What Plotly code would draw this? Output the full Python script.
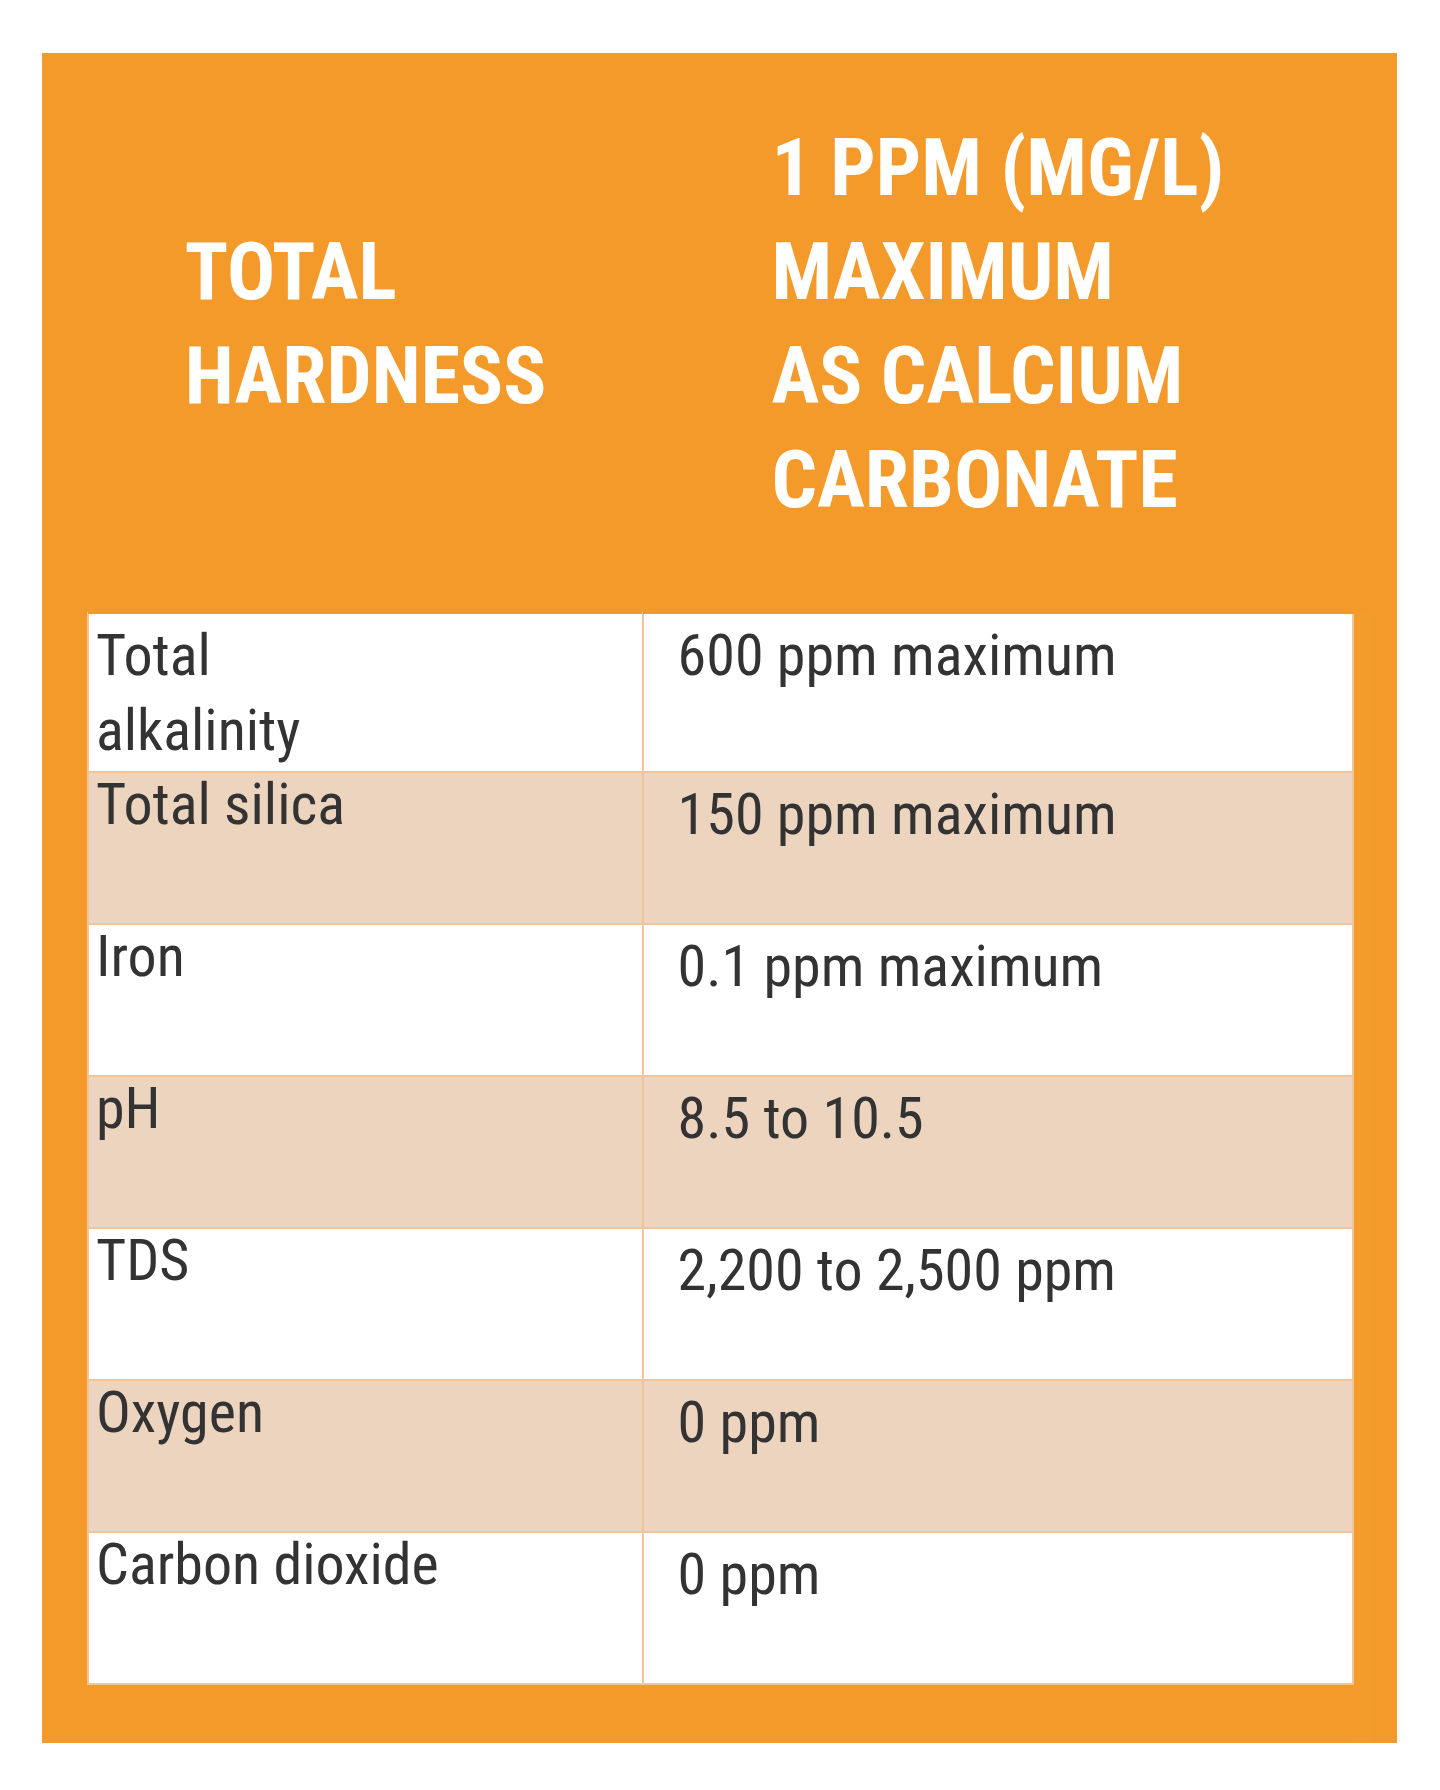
import plotly.graph_objects as go

headers = ["&nbsp;<br>TOTAL<br>HARDNESS", "1 PPM (MG/L)<br>MAXIMUM<br>AS CALCIUM<br>CARBONATE"]
parameters = ["Total<br>alkalinity", "Total silica", "Iron", "pH", "TDS", "Oxygen", "Carbon dioxide"]
limits = ["600 ppm maximum", "150 ppm maximum", "0.1 ppm maximum", "8.5 to 10.5",
          "2,200 to 2,500 ppm", "0 ppm", "0 ppm"]

W, H = 1440, 1790
ORANGE = "#F39A2B"
PEACH = "#EDD4BF"
fills = [("white" if i % 2 == 0 else PEACH) for i in range(len(parameters))]
font_family = "Liberation Sans Narrow, Roboto Condensed, Roboto, sans-serif"

fig = go.Figure(go.Table(
    domain=dict(x=[80 / W, 1345 / W], y=[1 - 1735 / H, 1 - 105 / H]),
    columnwidth=[555, 710],
    header=dict(values=["<b>%s</b>" % h for h in headers], fill_color=ORANGE,
                line_color=ORANGE, align="center", height=500,
                font=dict(family=font_family, size=80, color="white")),
    cells=dict(values=[parameters, ["&nbsp;&nbsp;" + v for v in limits]],
               fill_color=[fills, fills], line=dict(color="#F2C49A", width=2),
               align="left", height=152,
               font=dict(family=font_family, size=58, color="#333333")),
))
fig.add_shape(type="rect", xref="paper", yref="paper", x0=34 / W, x1=1389 / W,
              y0=1 - 1735 / H, y1=1 - 45 / H, fillcolor=ORANGE, line_width=0, layer="below")
fig.update_layout(width=W, height=H, margin=dict(l=0, r=0, t=0, b=0),
                  paper_bgcolor="white", plot_bgcolor="white")
fig.write_html("out.html")
